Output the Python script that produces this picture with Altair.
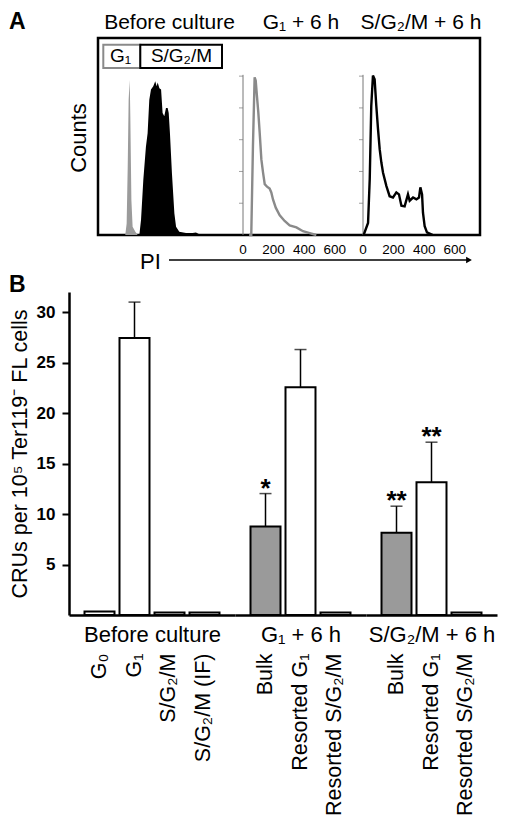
import altair as alt
import pandas as pd

FONT = "Liberation Sans"

# ---------------- Panel A data (flow histograms) ----------------
before_g1_pi = [41, 50, 57, 63, 70, 74, 81, 89, 107, 122]
before_g1_counts = [0, 18, 108, 213, 244, 187, 55, 13, 5, 0]
before_sg_pi = [133, 144, 159, 176, 187, 198, 209, 224, 237, 246, 253, 264, 275, 285,
                296, 307, 318, 325, 333, 346, 362, 373, 394, 438, 481, 503, 525, 547]
before_sg_counts = [0, 24, 87, 139, 160, 213, 229, 234, 242, 234, 240, 231, 229, 192,
                    187, 200, 200, 192, 160, 97, 34, 13, 5, 3, 3, 4, 1, 0]
g1_6h_pi = [40, 54, 65, 76, 83, 91, 100, 109, 120, 131, 142, 157, 174, 185, 196, 214,
            240, 272, 305, 349, 392, 436, 479]
g1_6h_counts = [0, 0, 140, 248, 243, 219, 193, 161, 119, 98, 80, 76, 73, 67, 56, 43,
                31, 22, 15, 12, 6, 3, 0]
sg_6h_pi = [4, 33, 44, 54, 65, 76, 87, 98, 109, 120, 131, 153, 174, 196, 218, 235, 251,
            272, 294, 305, 327, 349, 366, 375, 386, 392, 403, 418, 457]
sg_6h_counts = [0, 19, 88, 203, 251, 245, 203, 167, 135, 114, 98, 77, 61, 59, 67, 64, 46,
                45, 64, 54, 59, 56, 59, 75, 64, 35, 14, 4, 0]
pi_ticks = [0, 200, 400, 600]
count_ticks = [50, 100, 150, 200, 250]
count_axis_top = [252]
panel_titles = ["Before culture", "G\u2081 + 6 h", "S/G\u2082/M + 6 h"]
legend_labels = ["G\u2081", "S/G\u2082/M"]

# ---------------- Panel B data (CRU bars) ----------------
groups = ["Before culture", "G\u2081 + 6 h", "S/G\u2082/M + 6 h"]
cats = [["G\u2080", "G\u2081", "S/G\u2082/M", "S/G\u2082/M (IF)"],
        ["Bulk", "Resorted G\u2081", "Resorted S/G\u2082/M"],
        ["Bulk", "Resorted G\u2081", "Resorted S/G\u2082/M"]]
vals = [[0.35, 27.45, 0.25, 0.25], [8.77, 22.56, 0.25], [8.14, 13.16, 0.25]]
err_top = [[None, 31.0, None, None], [12.03, 26.3, None], [10.78, 17.12, None]]
sig = [["", "", "", ""], ["*", "", ""], ["**", "**", ""]]
kind = [["sorted"] * 4, ["bulk", "sorted", "sorted"], ["bulk", "sorted", "sorted"]]
y_ticks = [5, 10, 15, 20, 25, 30]

# ---------------- Panel A ----------------
# plot area starts at the left edge of panel B's plot; the framed box starts BOX_L px later
BOX_L = 29
WA, HA = 411, 197
ydomA = [0, 310]


def yA(field="count"):
    return alt.Y(f"{field}:Q", scale=alt.Scale(domain=ydomA, nice=False), axis=None)


def xA(dom):
    return alt.X("pi:Q", scale=alt.Scale(domain=dom, nice=False, zero=False), axis=None)


dom1 = [-326.8, 2359.5]
dom2 = [-1137.3, 1549.0]
dom3 = [-1921.6, 764.7]

one = pd.DataFrame({"a": [0]})

box = alt.Chart(one).mark_rect(fill="white", stroke="black", strokeWidth=2.5).encode(
    x=alt.value(BOX_L), x2=alt.value(WA), y=alt.value(0), y2=alt.value(HA))

h1 = alt.layer(
    alt.Chart(pd.DataFrame({"pi": before_g1_pi, "count": before_g1_counts}))
    .mark_area(color="#9b9b9b").encode(x=xA(dom1), y=yA()),
    alt.Chart(pd.DataFrame({"pi": before_sg_pi, "count": before_sg_counts}))
    .mark_area(color="black").encode(x=xA(dom1), y=yA()),
)


def hist_panel(pis, counts, dom, color):
    axis_line = alt.Chart(pd.DataFrame({"pi": [0], "count": [0], "count2": count_axis_top})) \
        .mark_rule(color="#777777", strokeWidth=1) \
        .encode(x=xA(dom), y=yA(), y2="count2:Q")
    ticks = alt.Chart(pd.DataFrame({"pi": [0] * len(count_ticks), "count": count_ticks})) \
        .mark_tick(orient="horizontal", size=4, thickness=1, color="#777777", xOffset=-2) \
        .encode(x=xA(dom), y=yA())
    line = alt.Chart(pd.DataFrame({"pi": pis, "count": counts})) \
        .mark_line(color=color, strokeWidth=2.4) \
        .encode(x=xA(dom), y=yA())
    labels = alt.Chart(pd.DataFrame({"pi": pi_ticks, "label": [str(v) for v in pi_ticks]})) \
        .mark_text(fontSize=13.5, baseline="alphabetic", align="center", color="black") \
        .encode(x=xA(dom), y=alt.value(HA + 19), text="label:N")
    return alt.layer(axis_line, ticks, line, labels)


h2 = hist_panel(g1_6h_pi, g1_6h_counts, dom2, "#8a8a8a")
h3 = hist_panel(sg_6h_pi, sg_6h_counts, dom3, "black")

deco = []
for t, xc in zip(panel_titles, [71.5, 203, 323]):
    deco.append(alt.Chart(one).mark_text(text=t, fontSize=21, align="center",
                                         baseline="alphabetic", color="black")
                .encode(x=alt.value(xc + BOX_L), y=alt.value(-9)))
deco.append(alt.Chart(one).mark_rect(fill="white", stroke="#8a8a8a", strokeWidth=2)
            .encode(x=alt.value(BOX_L + 5.3), x2=alt.value(BOX_L + 42.3),
                    y=alt.value(6.7), y2=alt.value(30)))
deco.append(alt.Chart(one).mark_rect(fill="white", stroke="black", strokeWidth=2)
            .encode(x=alt.value(BOX_L + 42.3), x2=alt.value(BOX_L + 124),
                    y=alt.value(6.7), y2=alt.value(30)))
for t, xc in zip(legend_labels, [22.5, 83.5]):
    deco.append(alt.Chart(one).mark_text(text=t, fontSize=19, align="center",
                                         baseline="alphabetic", color="black")
                .encode(x=alt.value(BOX_L + xc), y=alt.value(23.5)))
deco.append(alt.Chart(one).mark_text(text="Counts", fontSize=22, angle=270, align="center",
                                     baseline="middle", color="black")
            .encode(x=alt.value(BOX_L - 19), y=alt.value(100)))
deco.append(alt.Chart(one).mark_text(text="PI", fontSize=22, align="left",
                                     baseline="alphabetic", color="black")
            .encode(x=alt.value(BOX_L + 42), y=alt.value(230.5)))
deco.append(alt.Chart(one).mark_rule(color="black", strokeWidth=1.3)
            .encode(x=alt.value(BOX_L + 71), x2=alt.value(BOX_L + 369), y=alt.value(222)))
deco.append(alt.Chart(one).mark_point(shape="triangle-right", filled=True, size=45,
                                      color="black", opacity=1)
            .encode(x=alt.value(BOX_L + 371), y=alt.value(222)))
deco.append(alt.Chart(one).mark_text(text="A", fontSize=23, fontWeight="bold", align="left",
                                     baseline="alphabetic", color="black")
            .encode(x=alt.value(BOX_L - 89), y=alt.value(-9.5)))

panelA = alt.layer(box, h1, h2, h3, *deco).resolve_scale(x="independent").properties(
    width=WA, height=HA)

# ---------------- Panel B ----------------
HB = 323
yscaleB = alt.Scale(domain=[0, 32], nice=False)
widths = [166, 131, 131]


def bar_panel(i, show_y):
    df = pd.DataFrame({"cat": cats[i], "val": vals[i], "err": err_top[i],
                       "sig": sig[i], "kind": kind[i]})
    xaxis = alt.Axis(title=groups[i], labelAngle=270, labelAlign="right",
                     labelBaseline="middle", labelPadding=38, ticks=False,
                     domainWidth=2.5, domainColor="black", labelFontSize=21.5,
                     labelLimit=300, titleFontSize=22, titleFontWeight="normal",
                     titleY=26, titleBaseline="alphabetic", labelColor="black",
                     titleColor="black")
    xenc = alt.X("cat:N", sort=cats[i],
                 scale=alt.Scale(domain=cats[i], paddingInner=0.143, paddingOuter=0.443),
                 axis=xaxis)
    if show_y:
        yaxis = alt.Axis(values=y_ticks, title="CRUs per 10\u2075 Ter119\u207b FL cells",
                         labelFontWeight="bold", labelFontSize=17, labelPadding=7,
                         tickSize=7, tickWidth=2, tickColor="black", domainWidth=2.5,
                         domainColor="black", grid=False, titleFontSize=21.5,
                         titleFontWeight="normal", titlePadding=5, labelColor="black",
                         titleColor="black")
    else:
        yaxis = None

    def yenc(f):
        return alt.Y(f"{f}:Q", scale=yscaleB, axis=yaxis)

    errdf = df.dropna(subset=["err"])
    bars = alt.Chart(df).mark_bar(stroke="black", strokeWidth=2).encode(
        x=xenc, y=yenc("val"),
        fill=alt.Fill("kind:N", scale=alt.Scale(domain=["bulk", "sorted"],
                                                range=["#9a9a9a", "white"]), legend=None))
    rule = alt.Chart(errdf).mark_rule(strokeWidth=1.5, color="black").encode(
        x=xenc, y=yenc("val"), y2="err:Q")
    cap = alt.Chart(errdf).mark_tick(size=12, thickness=1.5, color="black").encode(
        x=xenc, y=yenc("err"))
    stars = alt.Chart(errdf[errdf["sig"] != ""]).mark_text(
        fontSize=26, fontWeight="bold", baseline="alphabetic", dy=3, color="black").encode(
        x=xenc, y=yenc("err"), text="sig:N")
    layers = [rule, bars, cap, stars]
    if show_y:
        layers.append(alt.Chart(one).mark_text(text="B", fontSize=23, fontWeight="bold",
                                               align="left", baseline="alphabetic",
                                               color="black")
                      .encode(x=alt.value(-60), y=alt.value(0)))
    return alt.layer(*layers).properties(width=widths[i], height=HB)


panelB = alt.hconcat(bar_panel(0, True), bar_panel(1, False), bar_panel(2, False),
                     spacing=0, bounds="flush")

chart = alt.vconcat(panelA, panelB, spacing=0).properties(
    padding={"left": 0, "top": 2, "right": 0, "bottom": 0}
).configure(font=FONT).configure_view(stroke="transparent").configure_axis(
    labelFont=FONT, titleFont=FONT
).configure_text(font=FONT)

chart.save("out.html", embed_options={"renderer": "svg", "actions": False})
